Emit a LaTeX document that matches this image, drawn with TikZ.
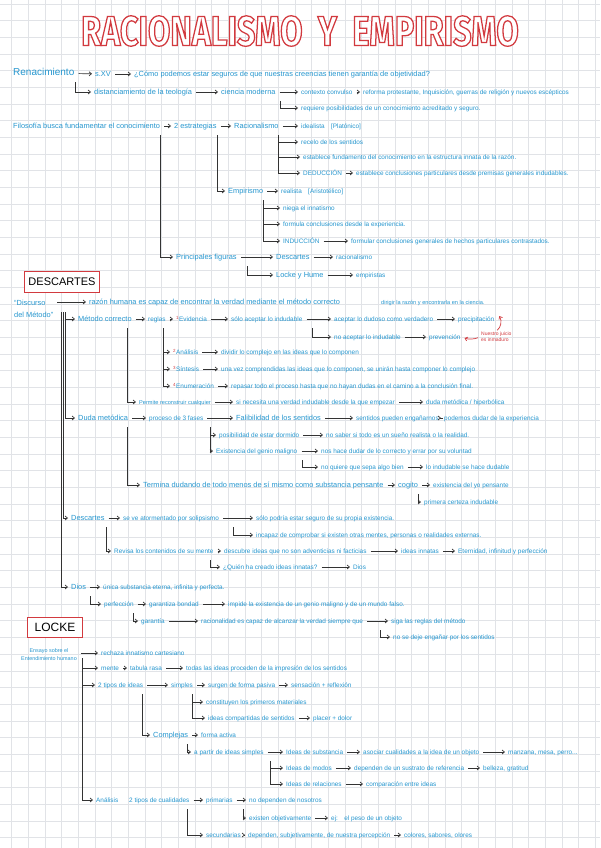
\documentclass[tikz,border=0pt]{standalone}
\usepackage{fontspec}
\setmainfont{Liberation Sans}
\newfontfamily\titlefont[FakeStretch=0.77, BoldFeatures={FakeBold=3}]{Fira Sans}
\definecolor{MAPblue}{HTML}{2596CF}
\definecolor{MAPred}{HTML}{D23A3F}
\definecolor{MAPink}{HTML}{333333}
\definecolor{MAPgrid}{HTML}{E1E3E7}
\usetikzlibrary{arrows.meta}

\begin{document}
\begin{tikzpicture}[x=1pt, y=-1pt,
      txt/.style={anchor=west, inner sep=1pt, text=MAPblue,
                  font=\fontsize{6.4}{7.5}\selectfont, text height=1.5ex, text depth=.4ex},
      mid/.style={txt, font=\fontsize{7.4}{8.5}\selectfont},
      big/.style={txt, font=\fontsize{10}{12}\selectfont},
      tiny/.style={txt, font=\fontsize{5.6}{6.5}\selectfont},
      twoline/.style={inner sep=1pt, text=MAPblue, align=left},
      namebox/.style={draw=MAPred, line width=0.9pt, fill=white, text=black,
                      font=\fontsize{11}{13}\selectfont, minimum width=75pt,
                      minimum height=21pt, inner sep=2pt},
      arr/.style={-{Straight Barb[length=2.4pt,width=4pt]}, MAPink, line width=0.7pt,
                  shorten >=2pt, shorten <=3pt},
      nota/.style={-{Straight Barb[length=2.4pt,width=4pt]}, MAPred, line width=0.7pt},
      gridline/.style={MAPgrid, line width=0.6pt}]
      % Page and squared paper
      \useasboundingbox (0,0) rectangle (600,848);
      \fill[white] (0,0) rectangle (600,848);
      \foreach \i in {0,...,35} \draw[gridline] (11.7+\i*16.67,0) -- (11.7+\i*16.67,848);
      \foreach \j in {0,...,50} \draw[gridline] (0,4+\j*16.67) -- (600,4+\j*16.67);
      % Title: white letters with a red stroke
      \node[font=\titlefont\bfseries\fontsize{42}{42}\selectfont] (title) at (300,31)
           {\pgfsetstrokecolor{MAPred}\pgfsetfillcolor{white}RACIONALISMO\ \ Y\ \ EMPIRISMO};
      % Renacimiento
      \node[big] (ren) at (12,73) {Renacimiento};
      \node[mid] (sxv) at (94,74) {s.XV};
      \node[mid] (como) at (133,74) {¿Cómo podemos estar seguros de que nuestras creencias tienen garantía de objetividad?};
      \node[mid] (dist) at (93,92) {distanciamiento de la teología};
      \node[mid] (cien) at (220,92) {ciencia moderna};
      \node[txt] (conv) at (300,92) {contexto convulso};
      \node[txt] (refo) at (362,92) {reforma protestante, Inquisición, guerras de religión y nuevos escépticos};
      \node[txt] (requ) at (300,108) {requiere posibilidades de un conocimiento acreditado y seguro.};
      \draw[arr] (ren) -- (sxv);
      \draw[arr] (sxv) -- (como);
      \draw[arr] ([xshift=-18pt]ren.south -| dist.west) |- (dist);
      \draw[arr] (dist) -- (cien);
      \draw[arr] (cien) -- (conv);
      \draw[arr] (conv) -- (refo);
      \draw[arr] ([xshift=-20pt]cien.south -| requ.west) |- (requ);
      % Filosofia: racionalismo y empirismo
      \node[mid] (filo) at (12,126) {Filosofía busca fundamentar el conocimiento};
      \node[mid] (estr) at (173,126) {2 estrategias};
      \node[mid] (rac) at (233,126) {Racionalismo};
      \node[txt] (idea) at (300,126) {idealista\quad[Platónico]};
      \node[txt] (rece) at (300,142) {recelo de los sentidos};
      \node[txt] (esta) at (302,157) {establece fundamento del conocimiento en la estructura innata de la razón.};
      \node[txt] (ded) at (302,173) {DEDUCCIÓN};
      \node[txt] (dedc) at (355,173) {establece conclusiones particulares desde premisas generales indudables.};
      \node[mid] (emp) at (227,191) {Empirismo};
      \node[txt] (real) at (280,191) {realista\quad[Aristotélico]};
      \node[txt] (nieg) at (282,208) {niega el innatismo};
      \node[txt] (form) at (282,224) {formula conclusiones desde la experiencia.};
      \node[txt] (ind) at (282,241) {INDUCCIÓN};
      \node[txt] (indc) at (350,241) {formular conclusiones generales de hechos particulares contrastados.};
      \node[mid] (prin) at (175,257) {Principales figuras};
      \node[mid] (dsc) at (275,257) {Descartes};
      \node[txt] (racn) at (335,257) {racionalismo};
      \node[mid] (lyh) at (275,275) {Locke y Hume};
      \node[txt] (empi) at (355,275) {empiristas};
      \draw[arr] (filo) -- (estr);
      \draw[arr] (estr) -- (rac);
      \draw[arr] (rac) -- (idea);
      \draw[arr] ([xshift=-22pt]rac.south -| rece.west) |- (rece);
      \draw[arr] ([xshift=-24pt]rac.south -| esta.west) |- (esta);
      \draw[arr] ([xshift=-24pt]rac.south -| ded.west) |- (ded);
      \draw[arr] (ded) -- (dedc);
      \draw[arr] ([xshift=-10pt]estr.south -| emp.west) |- (emp);
      \draw[arr] (emp) -- (real);
      \draw[arr] ([xshift=-19pt]emp.south -| nieg.west) |- (nieg);
      \draw[arr] ([xshift=-19pt]emp.south -| form.west) |- (form);
      \draw[arr] ([xshift=-19pt]emp.south -| ind.west) |- (ind);
      \draw[arr] (ind) -- (indc);
      \draw[arr] ([xshift=-15pt]filo.south -| prin.west) |- (prin);
      \draw[arr] (prin) -- (dsc);
      \draw[arr] (dsc) -- (racn);
      \draw[arr] ([xshift=-28pt]prin.south -| lyh.west) |- (lyh);
      \draw[arr] (lyh) -- (empi);
      % Descartes
      \node[namebox] (desbox) at (62,282) {DESCARTES};
      \node[twoline, anchor=west, font=\fontsize{7.4}{12}\selectfont] (disc) at (13,309) {“Discurso\\del Método”};
      \node[mid] (razo) at (88,302) {razón humana es capaz de encontrar la verdad mediante el método correcto};
      \node[tiny] (diri) at (380,302) {dirigir la razón y encontrarla en la ciencia.};
      \node[mid] (meto) at (77,319) {Método correcto};
      \node[txt] (regl) at (147,319) {reglas};
      \node[txt] (evid) at (175,319) {\textsuperscript{\textcolor{MAPred}{1}}Evidencia};
      \node[txt] (soac) at (230,319) {sólo aceptar lo indudable};
      \node[txt] (acdu) at (333,319) {aceptar lo dudoso como verdadero};
      \node[txt] (prec) at (457,319) {precipitación};
      \node[txt] (noac) at (333,337) {no aceptar lo indudable};
      \node[txt] (prev) at (428,337) {prevención};
      \node[twoline, text=MAPred, font=\fontsize{5}{6}\selectfont, anchor=west] (nota) at (480,337) {Nuestro juicio\\es inmaduro};
      \node[txt] (anal) at (172,352) {\textsuperscript{\textcolor{MAPred}{2}}Análisis};
      \node[txt] (divi) at (220,352) {dividir lo complejo en las ideas que lo componen};
      \node[txt] (sint) at (172,369) {\textsuperscript{\textcolor{MAPred}{3}}Síntesis};
      \node[txt] (sinc) at (220,369) {una vez comprendidas las ideas que lo componen, se unirán hasta componer lo complejo};
      \node[txt] (enum) at (172,386) {\textsuperscript{\textcolor{MAPred}{4}}Enumeración};
      \node[txt] (enuc) at (230,386) {repasar todo el proceso hasta que no hayan dudas en el camino a la conclusión final.};
      \node[tiny] (perm) at (138,402) {Permite reconstruir cualquier};
      \node[txt] (nece) at (235,402) {si necesita una verdad indudable desde la que empezar};
      \node[txt] (dmh) at (425,402) {duda metódica / hiperbólica};
      \draw[arr] (disc.east |- razo) -- (razo);
      \draw[arr] ([xshift=-12pt]disc.east -| meto.west) |- (meto);
      \draw[arr] (meto) -- (regl);
      \draw[arr] (regl) -- (evid);
      \draw[arr] (evid) -- (soac);
      \draw[arr] (soac) -- (acdu);
      \draw[arr] (acdu) -- (prec);
      \draw[arr] ([xshift=-21pt]soac.south -| noac.west) |- (noac);
      \draw[arr] (noac) -- (prev);
      \draw[nota, shorten <=1pt] (nota.north) to[bend right=40] ([xshift=4pt,yshift=3pt]prec.east);
      \draw[nota, shorten <=2pt, shorten >=3pt] (nota.west) to[bend left=20] (prev.east);
      \draw[arr] ([xshift=-9pt]regl.south -| anal.west) |- (anal);
      \draw[arr] ([xshift=-9pt]regl.south -| sint.west) |- (sint);
      \draw[arr] ([xshift=-9pt]regl.south -| enum.west) |- (enum);
      \draw[arr] (anal) -- (divi);
      \draw[arr] (sint) -- (sinc);
      \draw[arr] (enum) -- (enuc);
      \draw[arr] ([xshift=-11pt]meto.south -| perm.west) |- (perm);
      \draw[arr] (perm) -- (nece);
      \draw[arr] (nece) -- (dmh);
      % Duda metodica
      \node[mid] (duda) at (77,418) {Duda metódica};
      \node[txt] (proc) at (148,418) {proceso de 3 fases};
      \node[mid] (fali) at (235,418) {Falibilidad de los sentidos};
      \node[txt] (spe) at (355,418) {sentidos pueden engañarnos};
      \node[txt] (pdu) at (443,418) {podemos dudar de la experiencia};
      \node[txt] (dorm) at (218,435) {posibilidad de estar dormido};
      \node[txt] (suen) at (325,435) {no saber si todo es un sueño realista o la realidad.};
      \node[txt] (geni) at (215,451) {Existencia del genio maligno};
      \node[txt] (hace) at (320,451) {nos hace dudar de lo correcto y errar por su voluntad};
      \node[txt] (quie) at (320,467) {no quiere que sepa algo bien};
      \node[txt] (hdud) at (425,467) {lo indudable se hace dudable};
      \node[mid] (term) at (142,485) {Termina dudando de todo menos de sí mismo como substancia pensante};
      \node[mid] (cogi) at (397,485) {cogito};
      \node[txt] (exyo) at (432,485) {existencia del yo pensante};
      \node[txt] (cert) at (423,502) {primera certeza indudable};
      \draw[arr] ([xshift=-12pt]disc.east -| duda.west) |- (duda);
      \draw[arr] (duda) -- (proc);
      \draw[arr] (proc) -- (fali);
      \draw[arr] (fali) -- (spe);
      \draw[arr] (spe) -- (pdu);
      \draw[arr] ([xshift=-8pt]proc.south -| dorm.west) |- (dorm);
      \draw[arr] ([xshift=-5pt]proc.south -| geni.west) |- (geni);
      \draw[arr] (dorm) -- (suen);
      \draw[arr] (geni) -- (hace);
      \draw[arr] ([xshift=-18pt]geni.south -| quie.west) |- (quie);
      \draw[arr] (quie) -- (hdud);
      \draw[arr] ([xshift=-15pt]duda.south -| term.west) |- (term);
      \draw[arr] (term) -- (cogi);
      \draw[arr] (cogi) -- (exyo);
      \draw[arr] ([xshift=-5pt]cogi.south -| cert.west) |- (cert);
      % Descartes: solipsismo y Dios
      \node[mid] (desc) at (70,518) {Descartes};
      \node[txt] (soli) at (122,518) {se ve atormentado por solipsismo};
      \node[txt] (segu) at (255,518) {sólo podría estar seguro de su propia existencia.};
      \node[txt] (inca) at (255,535) {incapaz de comprobar si existen otras mentes, personas o realidades externas.};
      \node[txt] (revi) at (113,551) {Revisa los contenidos de su mente};
      \node[txt] (desb) at (223,551) {descubre ideas que no son adventicias ni facticias};
      \node[txt] (inna) at (400,551) {ideas innatas};
      \node[txt] (eter) at (457,551) {Eternidad, infinitud y perfección};
      \node[txt] (quien) at (222,567) {¿Quién ha creado ideas innatas?};
      \node[txt] (dioz) at (352,567) {Dios};
      \node[mid] (dios) at (70,587) {Dios};
      \node[txt] (unic) at (102,587) {única substancia eterna, infinita y perfecta.};
      \node[txt] (perf) at (103,604) {perfección};
      \node[txt] (bond) at (148,604) {garantiza bondad};
      \node[txt] (impi) at (227,604) {impide la existencia de un genio maligno y de un mundo falso.};
      \node[txt] (gara) at (140,621) {garantía};
      \node[txt] (capa) at (200,621) {racionalidad es capaz de alcanzar la verdad siempre que};
      \node[txt] (siga) at (390,621) {siga las reglas del método};
      \node[txt] (enga) at (392,637) {no se deje engañar por los sentidos};
      \draw[arr] ([xshift=-7pt]disc.east -| desc.west) |- (desc);
      \draw[arr] (desc) -- (soli);
      \draw[arr] (soli) -- (segu);
      \draw[arr] ([xshift=-22pt]soli.south -| inca.west) |- (inca);
      \draw[arr] ([xshift=-7pt]desc.south -| revi.west) |- (revi);
      \draw[arr] (revi) -- (desb);
      \draw[arr] (desb) -- (inna);
      \draw[arr] (inna) -- (eter);
      \draw[arr] ([xshift=-12pt]revi.south -| quien.west) |- (quien);
      \draw[arr] (quien) -- (dioz);
      \draw[arr] ([xshift=-9pt]disc.east -| dios.west) |- (dios);
      \draw[arr] (dios) -- (unic);
      \draw[arr] ([xshift=-13pt]dios.south -| perf.west) |- (perf);
      \draw[arr] (perf) -- (bond);
      \draw[arr] (bond) -- (impi);
      \draw[arr] ([xshift=-7pt]perf.south -| gara.west) |- (gara);
      \draw[arr] (gara) -- (capa);
      \draw[arr] (capa) -- (siga);
      \draw[arr] ([xshift=-12pt]capa.south -| enga.west) |- (enga);
      % Locke
      \node[namebox, minimum width=55pt, minimum height=20pt, font=\fontsize{12}{14}\selectfont] (lockbox) at (55,627) {LOCKE};
      \node[twoline, align=center, font=\fontsize{5.4}{8}\selectfont] (ens) at (49,655) {Ensayo sobre el\\Entendimiento humano};
      \node[txt] (rech) at (100,653) {rechaza innatismo cartesiano};
      \node[txt] (ment) at (100,668) {mente};
      \node[txt] (tabu) at (129,668) {tabula rasa};
      \node[txt] (toda) at (185,668) {todas las ideas proceden de la impresión de los sentidos};
      \node[txt] (tipo) at (97,685) {2 tipos de ideas};
      \node[txt] (simp) at (170,685) {simples};
      \node[txt] (surg) at (207,685) {surgen de forma pasiva};
      \node[txt] (sens) at (290,685) {sensación + reflexión};
      \node[txt] (cons) at (205,702) {constituyen los primeros materiales};
      \node[txt] (icom) at (207,718) {ideas compartidas de sentidos};
      \node[txt] (plac) at (312,718) {placer + dolor};
      \node[mid] (cpl) at (152,735) {Complejas};
      \node[txt] (acti) at (200,735) {forma activa};
      \node[txt] (apar) at (193,752) {a partir de ideas simples};
      \node[txt] (sust) at (285,752) {Ideas de substancia};
      \node[txt] (asoc) at (362,752) {asociar cualidades a la idea de un objeto};
      \node[txt] (manz) at (507,752) {manzana, mesa, perro...};
      \node[txt] (modo) at (285,768) {Ideas de modos};
      \node[txt] (depe) at (353,768) {dependen de un sustrato de referencia};
      \node[txt] (bell) at (482,768) {belleza, gratitud};
      \node[txt] (rela) at (285,784) {Ideas de relaciones};
      \node[txt] (comc) at (365,784) {comparación entre ideas};
      \node[txt] (anls) at (95,800) {Análisis};
      \node[txt] (cual) at (128,800) {2 tipos de cualidades};
      \node[txt] (prim) at (205,800) {primarias};
      \node[txt] (nodp) at (248,800) {no dependen de nosotros};
      \node[txt] (obje) at (248,818) {existen objetivamente};
      \node[txt] (peso) at (330,818) {ej:\quad el peso de un objeto};
      \node[txt] (secu) at (205,835) {secundarias};
      \node[txt] (subj) at (247,835) {dependen, subjetivamente, de nuestra percepción};
      \node[txt] (colo) at (403,835) {colores, sabores, olores};
      \draw[arr] (ens.east |- rech) -- (rech);
      \draw[arr] ([xshift=-18pt]ens.east -| ment.west) |- (ment);
      \draw[arr] (ment) -- (tabu);
      \draw[arr] (tabu) -- (toda);
      \draw[arr] ([xshift=-15pt]ens.east -| tipo.west) |- (tipo);
      \draw[arr] (tipo) -- (simp);
      \draw[arr] (simp) -- (surg);
      \draw[arr] (surg) -- (sens);
      \draw[arr] ([xshift=-13pt]simp.south -| cons.west) |- (cons);
      \draw[arr] ([xshift=-15pt]simp.south -| icom.west) |- (icom);
      \draw[arr] (icom) -- (plac);
      \draw[arr] ([xshift=-10pt]tipo.south -| cpl.west) |- (cpl);
      \draw[arr] (cpl) -- (acti);
      \draw[arr] ([xshift=-6pt]cpl.south -| apar.west) |- (apar);
      \draw[arr] (apar) -- (sust);
      \draw[arr] (sust) -- (asoc);
      \draw[arr] (asoc) -- (manz);
      \draw[arr] ([xshift=-15pt]apar.south -| modo.west) |- (modo);
      \draw[arr] ([xshift=-15pt]apar.south -| rela.west) |- (rela);
      \draw[arr] (modo) -- (depe);
      \draw[arr] (depe) -- (bell);
      \draw[arr] (rela) -- (comc);
      \draw[arr] ([xshift=-13pt]ens.east -| anls.west) |- (anls);
      \draw[arr] (cual) -- (prim);
      \draw[arr] (prim) -- (nodp);
      \draw[arr] ([xshift=-5pt]prim.south -| obje.west) |- (obje);
      \draw[arr] (obje) -- (peso);
      \draw[arr] ([xshift=-18pt]cual.south -| secu.west) |- (secu);
      \draw[arr] (secu) -- (subj);
      \draw[arr] (subj) -- (colo);
\end{tikzpicture}
\end{document}
